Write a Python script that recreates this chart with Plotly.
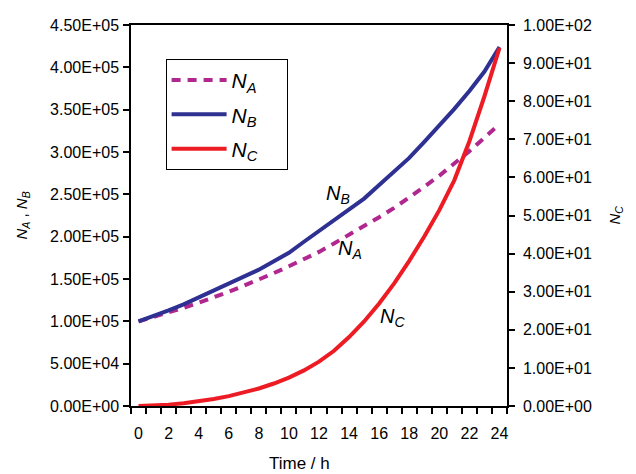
import plotly.graph_objects as go

# ---- data ----
time_h = list(range(0, 25))
N_A = [100000, 105000, 110000, 116000, 122000, 128000, 135000, 142000, 149000, 157000,
       165000, 173000, 182000, 192000, 202000, 212000, 223000, 234000, 246000, 259000,
       272000, 286000, 301000, 317000, 333000]
N_B = [100000, 106000, 113000, 120000, 128000, 136000, 144000, 152000, 161000, 171000,
       181000, 194000, 207000, 220000, 232000, 245000, 261000, 277000, 293000, 312000,
       331000, 351000, 372000, 395000, 424000]
N_C = [0.0, 0.1, 0.35, 0.75, 1.25, 1.85, 2.6, 3.5, 4.6, 5.9,
       7.45, 9.35, 11.65, 14.5, 18.1, 22.2, 26.9, 32.2, 38.1, 44.5,
       51.4, 59.3, 69.5, 81.3, 94.0]

x_tick_vals = list(range(0, 25, 2))
x_tick_text = [str(v) for v in x_tick_vals]
x_tick_marks = [v - 0.5 for v in range(0, 26)]
left_tick_vals = [0, 50000, 100000, 150000, 200000, 250000, 300000, 350000, 400000, 450000]
left_tick_text = ["0.00E+00", "5.00E+04", "1.00E+05", "1.50E+05", "2.00E+05",
                  "2.50E+05", "3.00E+05", "3.50E+05", "4.00E+05", "4.50E+05"]
right_tick_vals = [0, 10, 20, 30, 40, 50, 60, 70, 80, 90, 100]
right_tick_text = ["0.00E+00", "1.00E+01", "2.00E+01", "3.00E+01", "4.00E+01", "5.00E+01",
                   "6.00E+01", "7.00E+01", "8.00E+01", "9.00E+01", "1.00E+02"]

FONT = "Arial, 'Liberation Sans', sans-serif"
C_A = "#B0288F"
C_B = "#2E3192"
C_C = "#ED1C24"

fig = go.Figure()
fig.add_trace(go.Scatter(x=time_h, y=N_A, mode="lines",
                         name="<i>N</i><sub><i>A</i></sub>&nbsp;&nbsp;&nbsp;&nbsp;",
                         line=dict(color=C_A, width=4, dash="9px,7px"), legendgroup="a",
                         xaxis="x", yaxis="y"))
fig.add_trace(go.Scatter(x=time_h, y=N_B, mode="lines",
                         name="<i>N</i><sub><i>B</i></sub>&nbsp;&nbsp;&nbsp;&nbsp;",
                         line=dict(color=C_B, width=4), legendgroup="b",
                         xaxis="x", yaxis="y"))
fig.add_trace(go.Scatter(x=time_h, y=N_C, mode="lines",
                         name="<i>N</i><sub><i>C</i></sub>&nbsp;&nbsp;&nbsp;&nbsp;",
                         line=dict(color=C_C, width=4), legendgroup="c",
                         xaxis="x", yaxis="y2"))

axis_font = dict(family=FONT, size=16, color="#000")

fig.update_layout(
    width=628, height=466,
    margin=dict(l=123, r=129, t=9, b=68),
    paper_bgcolor="white", plot_bgcolor="white",
    font=dict(family=FONT, color="#000"),
    showlegend=True,
    legend=dict(x=0.092, y=0.911, xanchor="left", yanchor="top",
                bordercolor="#000", borderwidth=1, bgcolor="white",
                font=dict(family=FONT, size=21, color="#000"),
                traceorder="grouped", tracegroupgap=4, itemwidth=55),
    xaxis=dict(range=[-0.5, 24.5], tickmode="array", tickvals=x_tick_vals, ticktext=x_tick_text,
               ticks="", showgrid=False, zeroline=False, showline=True, linecolor="#000",
               linewidth=1.5, mirror=True, tickfont=axis_font, ticklabelstandoff=12,
               minor=dict(tickmode="array", tickvals=x_tick_marks, ticks="outside",
                          ticklen=6, tickwidth=1.5, tickcolor="#000", showgrid=False)),
    xaxis2=dict(range=[-0.5, 24.5], overlaying="x", anchor="y", side="bottom",
                tickmode="array", tickvals=x_tick_marks, ticks="inside", ticklen=4,
                tickwidth=1.5, tickcolor="#000", showticklabels=False, showgrid=False,
                zeroline=False, showline=False),
    yaxis=dict(range=[0, 450000], tickmode="array", tickvals=left_tick_vals,
               ticktext=left_tick_text, ticks="outside", ticklen=6, tickwidth=1.5,
               tickcolor="#000", showgrid=False, zeroline=False, showline=True,
               linecolor="#000", linewidth=1.5, tickfont=axis_font, ticklabelstandoff=1),
    yaxis2=dict(range=[0, 100], overlaying="y", side="right", anchor="x", tickmode="array",
                tickvals=right_tick_vals, ticktext=right_tick_text, ticks="outside",
                ticklen=6, tickwidth=1.5, tickcolor="#000", showgrid=False, zeroline=False,
                showline=True, linecolor="#000", linewidth=1.5, tickfont=axis_font,
                ticklabelstandoff=5),
    yaxis3=dict(range=[0, 450000], overlaying="y", side="left", anchor="x", tickmode="array",
                tickvals=left_tick_vals, ticks="inside", ticklen=6, tickwidth=1.5,
                tickcolor="#000", showticklabels=False, showgrid=False, zeroline=False,
                showline=False),
    yaxis4=dict(range=[0, 100], overlaying="y", side="right", anchor="x", tickmode="array",
                tickvals=right_tick_vals, ticks="inside", ticklen=6, tickwidth=1.5,
                tickcolor="#000", showticklabels=False, showgrid=False, zeroline=False,
                showline=False),
)

ann_font = dict(family=FONT, size=20, color="#000")
fig.add_annotation(x=13.28, y=249500, xref="x", yref="y", showarrow=False,
                   text="<i>N</i><sub><i>B</i></sub>", font=ann_font)
fig.add_annotation(x=14.08, y=184900, xref="x", yref="y", showarrow=False,
                   text="<i>N</i><sub><i>A</i></sub>", font=ann_font)
fig.add_annotation(x=16.87, y=104000, xref="x", yref="y", showarrow=False,
                   text="<i>N</i><sub><i>C</i></sub>", font=ann_font)

title_font = dict(family=FONT, size=15, color="#000")
fig.add_annotation(x=0, y=0.5, xref="paper", yref="paper", xshift=-109,
                   xanchor="center", yanchor="middle", showarrow=False,
                   textangle=-90, text="<i>N</i><sub><i>A</i></sub> , <i>N</i><sub><i>B</i></sub>",
                   font=title_font)
fig.add_annotation(x=1, y=0.5, xref="paper", yref="paper", xshift=108,
                   xanchor="center", yanchor="middle", showarrow=False,
                   textangle=-90, text="<i>N</i><sub><i>C</i></sub>", font=title_font)
fig.add_annotation(x=0.447, y=0, xref="paper", yref="paper", yshift=-57,
                   xanchor="center", yanchor="middle", showarrow=False,
                   text="Time / h", font=dict(family=FONT, size=17, color="#000"))

fig.write_html("out.html")
